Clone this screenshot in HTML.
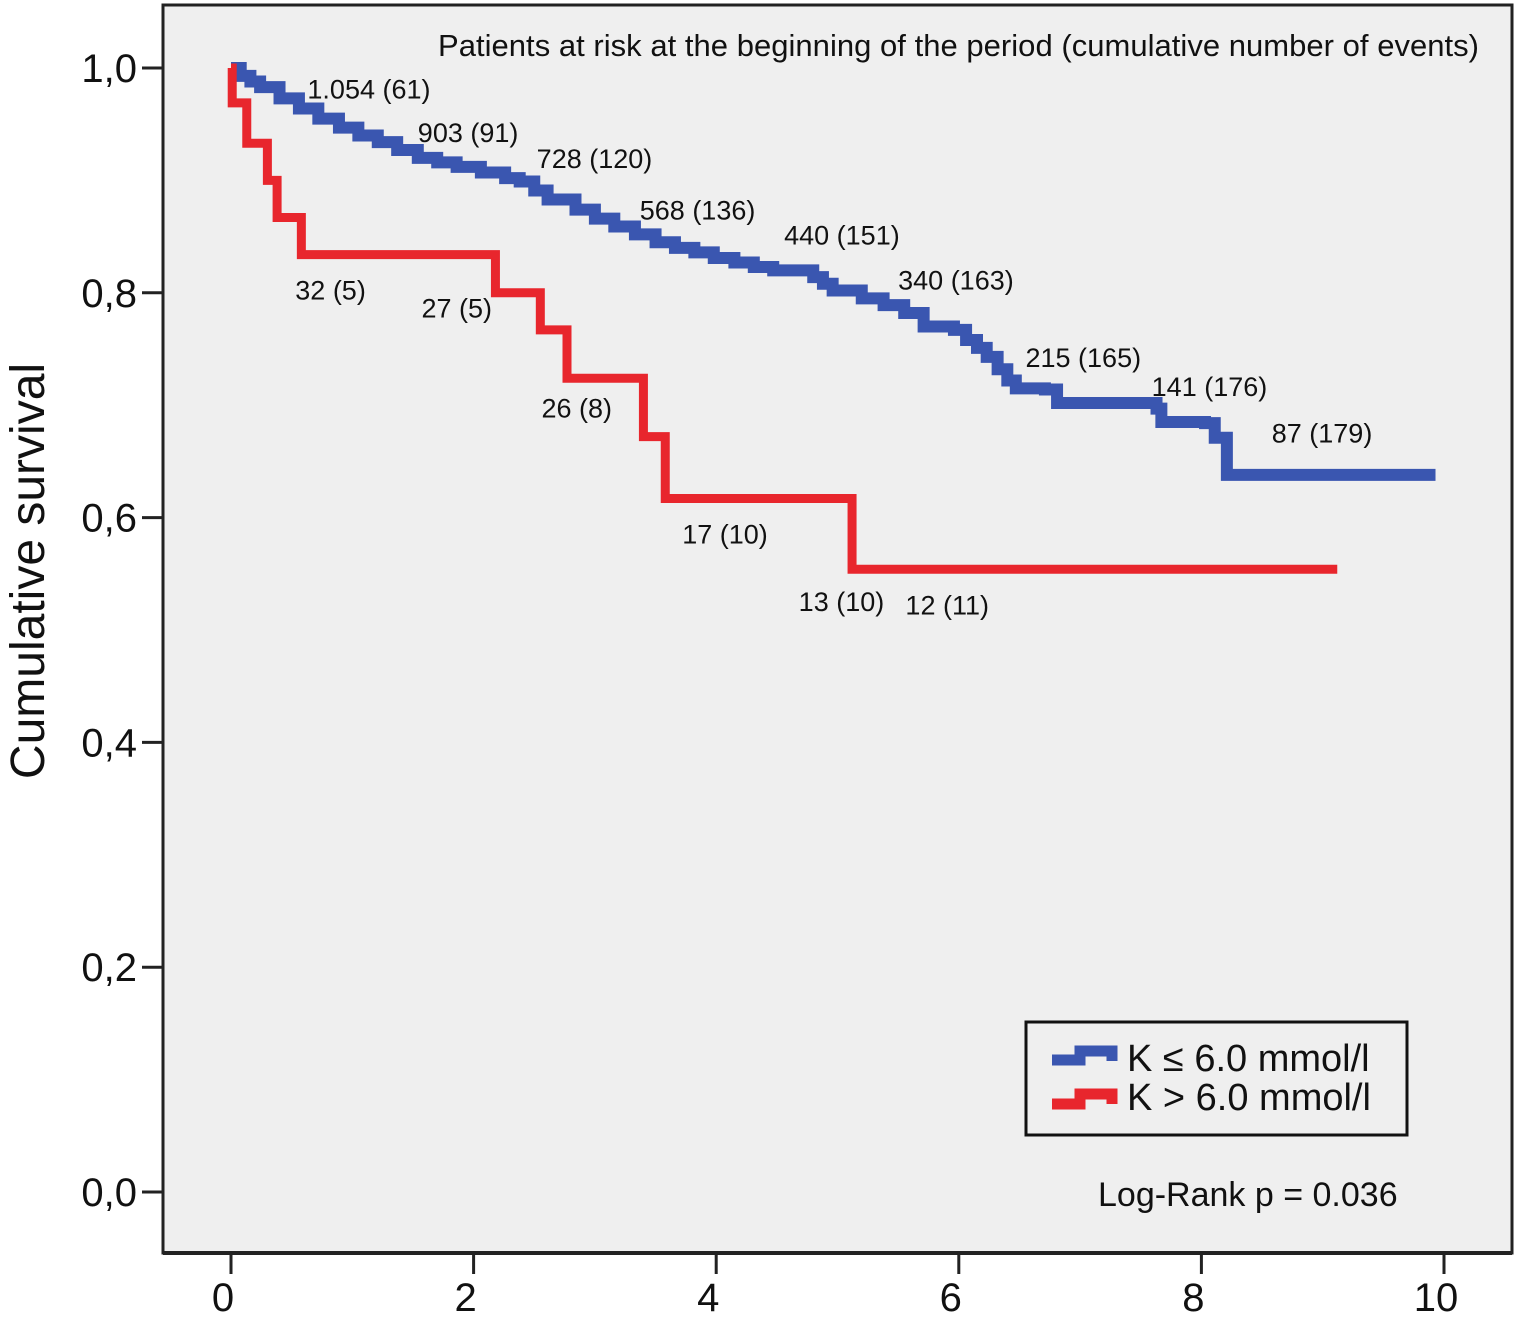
<!DOCTYPE html>
<html><head><meta charset="utf-8"><style>
html,body{margin:0;padding:0;background:#fff;}
svg{display:block;font-family:"Liberation Sans",Arial,sans-serif;}
</style></head><body>
<svg id="chart" width="1520" height="1321" viewBox="0 0 1520 1321">
<rect x="163" y="5" width="1349" height="1248" fill="#efefef" stroke="#222" stroke-width="3"/>
<line x1="163" y1="1253" x2="1512" y2="1253" stroke="#222" stroke-width="4"/>
<g id="axes"></g>
<g id="series"></g>
<text x="438" y="56" font-size="31" fill="#111" textLength="1041">Patients at risk at the beginning of the period (cumulative number of events)</text>
<text transform="translate(44,571) rotate(-90)" text-anchor="middle" font-size="48" fill="#111">Cumulative survival</text>
<g id="annots" font-size="27" fill="#111"></g>
<g>
<rect x="1026" y="1022" width="381" height="113" fill="#efefef" stroke="#111" stroke-width="3"/>
<path d="M1052 1060 H1080 V1051 H1112 V1061" fill="none" stroke="#3a56b0" stroke-width="11"/>
<text x="1127" y="1071" font-size="38" fill="#111">K ≤ 6.0 mmol/l</text>
<path d="M1052 1104 H1080 V1094 H1112 V1104" fill="none" stroke="#e8262d" stroke-width="11"/>
<text x="1127" y="1110" font-size="38" fill="#111">K &gt; 6.0 mmol/l</text>
</g>
<text x="1098" y="1206" font-size="34" fill="#111">Log-Rank p = 0.036</text>
</svg>
<script>
const xTicks = [0,2,4,6,8,10];
const yTicks = [0,0.2,0.4,0.6,0.8,1.0];
const yTickLabels = ["0,0","0,2","0,4","0,6","0,8","1,0"];
const redTimes = [0,0.01,0.13,0.3,0.38,0.58,2.18,2.55,2.77,3.4,3.58,5.12,9.12];
const redSurv = [1.0,0.969,0.933,0.90,0.867,0.834,0.80,0.767,0.724,0.672,0.617,0.554,0.554];
const blueTimes = [0,0.08,0.16,0.24,0.40,0.56,0.72,0.89,1.05,1.21,1.37,1.54,1.70,1.86,2.06,2.26,2.38,2.50,2.61,2.84,3.00,3.16,3.33,3.50,3.66,3.82,3.98,4.15,4.31,4.47,4.69,4.80,4.88,4.96,5.20,5.38,5.55,5.71,5.96,6.06,6.15,6.23,6.32,6.40,6.47,6.71,6.81,7.63,7.67,8.03,8.11,8.21,9.93];
const blueSurv = [1.0,0.993,0.988,0.983,0.973,0.964,0.955,0.947,0.940,0.934,0.927,0.920,0.916,0.912,0.907,0.902,0.899,0.891,0.883,0.874,0.866,0.859,0.852,0.845,0.840,0.836,0.831,0.827,0.823,0.820,0.820,0.814,0.808,0.802,0.795,0.789,0.782,0.770,0.767,0.758,0.751,0.743,0.732,0.722,0.715,0.714,0.702,0.697,0.685,0.684,0.671,0.638,0.638];
const annTexts = ["1.054 (61)","903 (91)","728 (120)","568 (136)","440 (151)","340 (163)","215 (165)","141 (176)","87 (179)","32 (5)","27 (5)","26 (8)","17 (10)","13 (10)","12 (11)"];
const annT = [0.63,1.54,2.52,3.37,4.56,5.50,6.55,7.59,8.58,0.53,1.57,2.56,3.72,4.68,5.56];
const annS = [0.973,0.934,0.911,0.865,0.843,0.803,0.734,0.708,0.667,0.794,0.778,0.689,0.577,0.517,0.514];

const X = t => 231 + t*121.3;
const Y = s => 1192 - s*1124;
const NS = "http://www.w3.org/2000/svg";
const axes = document.getElementById('axes');
function mk(tag, attrs, parent){const e=document.createElementNS(NS,tag);for(const k in attrs)e.setAttribute(k,attrs[k]);parent.appendChild(e);return e;}
xTicks.forEach(v=>{
  const l=mk('line',{x1:X(v),x2:X(v),y1:1253,y2:1274,stroke:'#222','stroke-width':3},axes);
  
  
  const t=mk('text',{x:X(v)-8,y:1311,'text-anchor':'middle','font-size':40,fill:'#111'},axes);
  t.textContent=v;
  
  
});
yTicks.forEach((v,i)=>{
  const l=mk('line',{x1:142,x2:163,y1:Y(v),y2:Y(v),stroke:'#222','stroke-width':3},axes);
  
  
  const t=mk('text',{x:137,y:Y(v)+14,'text-anchor':'end','font-size':40,fill:'#111'},axes);
  t.textContent=yTickLabels[i];
  
  
});
function stepPath(ts,ss){let d='M'+X(ts[0])+' '+Y(ss[0]);for(let i=1;i<ts.length;i++){d+=' H'+X(ts[i])+' V'+Y(ss[i]);}return d;}
const series=document.getElementById('series');
const bp=mk('path',{d:stepPath(blueTimes,blueSurv),fill:'none',stroke:'#3a56b0','stroke-width':12,'stroke-linejoin':'miter'},series);


const rp=mk('path',{d:stepPath(redTimes,redSurv),fill:'none',stroke:'#e8262d','stroke-width':9,'stroke-linejoin':'miter'},series);


const ann=document.getElementById('annots');
annTexts.forEach((s,i)=>{
  const t=mk('text',{x:X(annT[i]),y:Y(annS[i])},ann);
  t.textContent=s;
  
  
});
</script>
</body></html>
